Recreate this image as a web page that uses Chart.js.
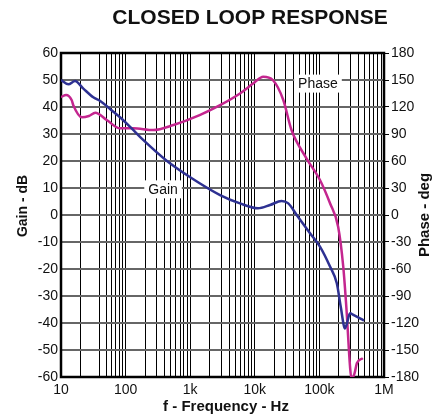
<!DOCTYPE html>
<html>
<head>
<meta charset="utf-8">
<title>Closed Loop Response</title>
<script src="https://cdn.jsdelivr.net/npm/chart.js@4.4.1/dist/chart.umd.min.js"></script>
<style>
    html, body { margin: 0; padding: 0; background: #fff; }
    canvas { display: block; }
</style>
</head>
<body>
<canvas id="loopChart" width="441" height="415"></canvas>
<script>
/* respuesta en lazo cerrado: ganancia (dB) y fase (grados) contra frecuencia */

const gainFreq = [10, 13, 16.5, 22, 31.6, 40, 64, 82, 131, 187, 432, 1000, 2900, 5900, 11200, 17200, 26000, 33000, 44500, 71600, 102000, 146000, 186000, 214000, 249000, 263000, 298000, 335000, 490000];
const gainDb = [50, 48.4, 49.6, 46.9, 43.6, 42.3, 38.3, 36.2, 31.5, 27.8, 20.1, 14, 7.4, 4.3, 2.5, 3.7, 5.2, 4.3, 0, -6.8, -11.7, -19.1, -25.3, -34, -42, -40.7, -36.4, -37, -39.1];

const phaseFreq = [10, 12, 14.6, 15.5, 21, 27, 34, 51, 82, 131, 268, 550, 1400, 2900, 5900, 9400, 13500, 19000, 27600, 37000, 63000, 102000, 146000, 195000, 234000, 263000, 298000, 313000, 350000, 380000, 470000];
const phaseDeg = [131, 133.3, 127.8, 122, 108.5, 110, 113.7, 105.6, 96.3, 96.3, 94.4, 100, 111, 122, 135, 146, 153.7, 150, 127.8, 94.4, 63, 38.9, 13, -13, -57.4, -105.6, -168.5, -182, -176, -164.8, -159];

const decades = [10, 100, 1000, 10000, 100000, 1000000];
const decadeLabels = ['10', '100', '1k', '10k', '100k', '1M'];
const minorSteps = [2, 3, 4, 5, 6, 7, 8, 9];

const FONT = "'Liberation Sans', Arial, sans-serif";
const gainColor = '#2e3192';
const phaseColor = '#c4268f';

// lineas verticales del grid (en la original falta la de 30 Hz)
const gridValues = [];
decades.forEach((d, i) => {
    gridValues.push(d);
    if (i < decades.length - 1) {
        minorSteps.forEach(m => {
            if (!(d === 10 && m === 3)) gridValues.push(d * m);
        });
    }
});

const toPoints = (xs, ys) => xs.map((x, i) => ({ x: x, y: ys[i] }));

const textPlugin = {
    id: 'textPlugin',
    beforeDatasetsDraw(chart) {
        const { ctx, chartArea: a, scales } = chart;
        ctx.save();

        //etiquetas de las curvas con fondo blanco
        const tags = [
            { text: 'Gain', x: scales.x.getPixelForValue(380), y: scales.yGain.getPixelForValue(9.5) },
            { text: 'Phase', x: scales.x.getPixelForValue(95000), y: scales.yPhase.getPixelForValue(146) }
        ];
        ctx.font = '14px ' + FONT;
        ctx.textAlign = 'center';
        ctx.textBaseline = 'middle';
        tags.forEach(t => {
            const w = ctx.measureText(t.text).width;
            ctx.fillStyle = '#fff';
            ctx.fillRect(t.x - w / 2 - 4, t.y - 9, w + 8, 18);
            ctx.fillStyle = '#111';
            ctx.fillText(t.text, t.x, t.y + 1);
        });

        //borde del area
        ctx.strokeStyle = '#000';
        ctx.lineWidth = 2.5;
        ctx.strokeRect(a.left, a.top, a.right - a.left, a.bottom - a.top);
        ctx.restore();
    },
    afterDraw(chart) {
        const { ctx, chartArea: a } = chart;
        ctx.save();
        ctx.fillStyle = '#111';
        ctx.textAlign = 'center';
        ctx.textBaseline = 'middle';

        ctx.font = 'bold 21px ' + FONT;
        ctx.fillText('CLOSED LOOP RESPONSE', 250, 18);

        ctx.font = 'bold 15px ' + FONT;
        ctx.fillText('f - Frequency - Hz', 226, 407);

        ctx.save();
        ctx.translate(23, 206);
        ctx.rotate(-Math.PI / 2);
        ctx.font = 'bold 14px ' + FONT;
        ctx.fillText('Gain - dB', 0, 0);
        ctx.restore();

        ctx.save();
        ctx.translate(425, 215);
        ctx.rotate(-Math.PI / 2);
        ctx.font = 'bold 15px ' + FONT;
        ctx.fillText('Phase - deg', 0, 0);
        ctx.restore();

        ctx.restore();
    }
};

const ctx = document.getElementById('loopChart');

new Chart(ctx, {
    type: 'line',
    data: {
        datasets: [
            {
                label: 'Gain',
                data: toPoints(gainFreq, gainDb),
                yAxisID: 'yGain',
                borderColor: gainColor,
                borderWidth: 2.5,
                pointRadius: 0,
                cubicInterpolationMode: 'monotone',
                fill: false
            },
            {
                label: 'Phase',
                data: toPoints(phaseFreq, phaseDeg),
                yAxisID: 'yPhase',
                borderColor: phaseColor,
                borderWidth: 2.5,
                pointRadius: 0,
                cubicInterpolationMode: 'monotone',
                fill: false
            }
        ]
    },
    options: {
        responsive: false,
        animation: false,
        layout: { padding: { top: 53, left: 0, right: 0, bottom: 0 } },
        plugins: {
            legend: { display: false },
            tooltip: { enabled: false },
            title: { display: false }
        },
        scales: {
            x: {
                type: 'logarithmic',
                min: 10,
                max: 1000000,
                afterBuildTicks: scale => {
                    scale.ticks = gridValues.map(v => ({ value: v }));
                },
                afterFit: scale => { scale.height = 38; },
                ticks: {
                    autoSkip: false,
                    maxRotation: 0,
                    padding: 5,
                    color: '#111',
                    font: { family: FONT, size: 14 },
                    callback: value => {
                        const i = decades.indexOf(value);
                        return i >= 0 ? decadeLabels[i] : '';
                    }
                },
                grid: {
                    color: '#000',
                    lineWidth: 1,
                    drawTicks: false
                },
                border: { display: false }
            },
            yGain: {
                position: 'left',
                min: -60,
                max: 60,
                afterFit: scale => { scale.width = 61; },
                ticks: {
                    stepSize: 10,
                    padding: 3,
                    color: '#111',
                    font: { family: FONT, size: 14 }
                },
                grid: {
                    color: '#666',
                    lineWidth: 2,
                    drawTicks: false
                },
                border: { display: false }
            },
            yPhase: {
                position: 'right',
                min: -180,
                max: 180,
                afterFit: scale => { scale.width = 57; },
                ticks: {
                    stepSize: 30,
                    padding: 2,
                    color: '#111',
                    font: { family: FONT, size: 14 }
                },
                grid: {
                    drawOnChartArea: false,
                    drawTicks: true,
                    tickLength: 5,
                    color: '#000',
                    lineWidth: 1
                },
                border: { display: false }
            }
        }
    },
    plugins: [textPlugin]
});
</script>
</body>
</html>
